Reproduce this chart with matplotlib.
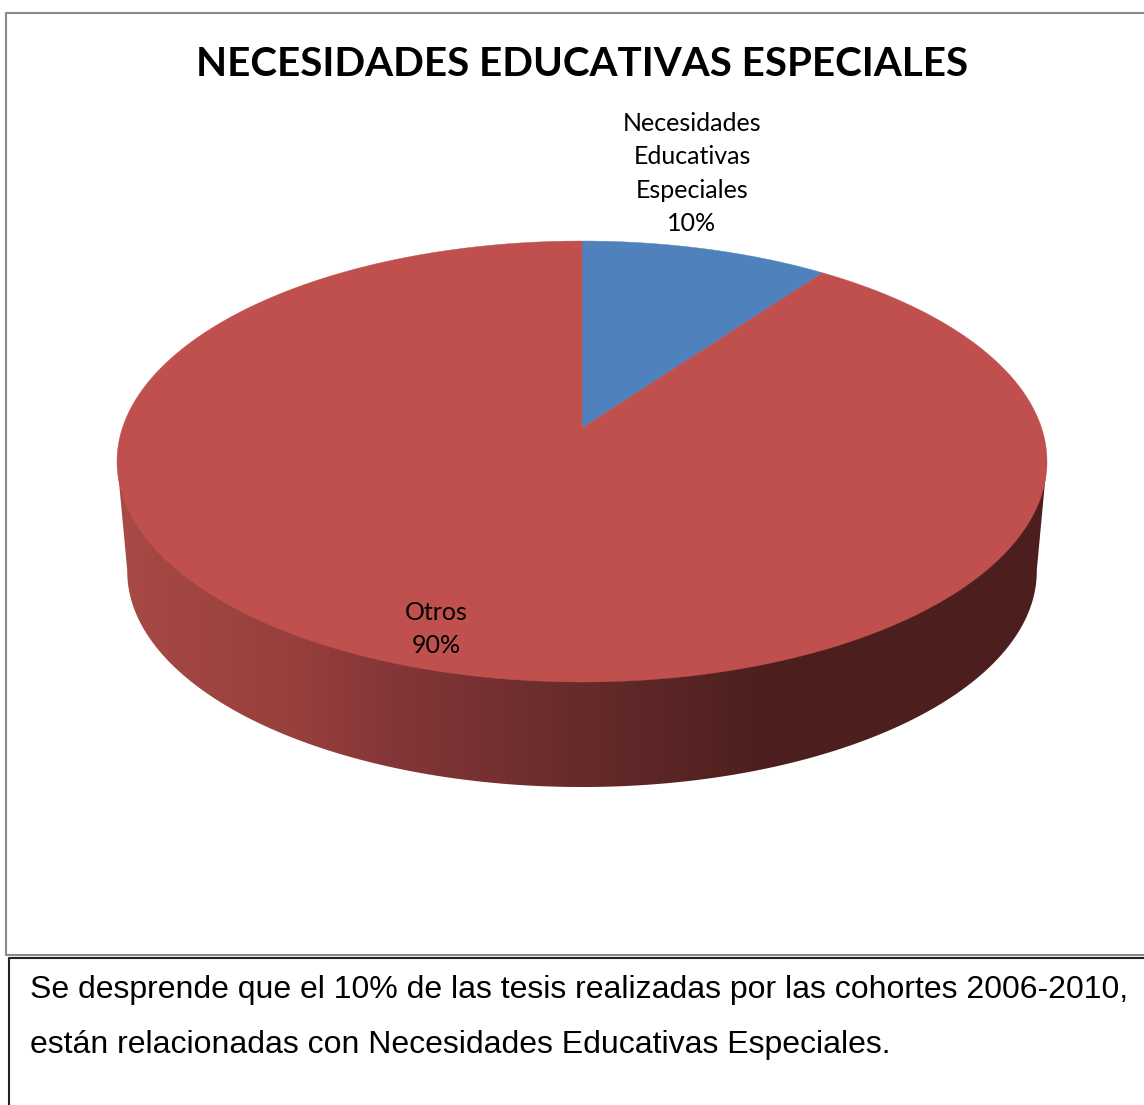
import numpy as np
import matplotlib
matplotlib.use('Agg')
import matplotlib.pyplot as plt
from matplotlib.patches import Polygon
from matplotlib.colors import LinearSegmentedColormap

titulo = 'NECESIDADES EDUCATIVAS ESPECIALES'
categorias = ['Necesidades\nEducativas\nEspeciales', 'Otros']
valores = [10, 90]
colores = ['#4f81bd', '#c0504d']
texto = ['Se desprende que el 10% de las tesis realizadas por las cohortes 2006-2010,',
         'están relacionadas con Necesidades Educativas Especiales.']

W, H = 1144, 1105
fig = plt.figure(figsize=(W / 100, H / 100), dpi=100)
ax = fig.add_axes([0, 0, 1, 1])
ax.set_xlim(0, W)
ax.set_ylim(H, 0)
ax.axis('off')

# perspectiva del pastel: circulo unidad -> pixeles
cx, cy = 582, 428
c = 0.152


def proyectar(ang, esc=1.0, dy=0.0):
    x = np.sin(ang)
    y = np.cos(ang)
    den = 1 + c * y
    return np.column_stack([cx + esc * 459.6 * x / den,
                            cy + dy - esc * 215.4 * y / den])


# lateral con degradado
t = np.linspace(0, 2 * np.pi, 721)
abajo = proyectar(t, 0.978, 110.6)
izq = abajo[:, 0].argmin()
der = abajo[:, 0].argmax()
arriba = proyectar(t)
contorno = np.vstack([arriba[arriba[:, 0].argmax()], abajo[der:izq + 1],
                      arriba[arriba[:, 0].argmin()]])
cmap = LinearSegmentedColormap.from_list('lateral', [
    (0.0, '#a84a46'), (0.197, '#963f3c'), (0.294, '#853638'),
    (0.50, '#672b2b'), (0.70, '#4c1f1e'), (1.0, '#4c1f1e')])
grad = np.linspace(0, 1, 512).reshape(1, -1)
img = ax.imshow(grad, cmap=cmap, extent=[117, 1047, 800, 440], aspect='auto', zorder=1)
img.set_clip_path(Polygon(contorno, transform=ax.transData))
ax.set_xlim(0, W)
ax.set_ylim(H, 0)

# cara superior, un sector por valor
fracc = np.cumsum([0] + valores) / sum(valores)
for i in range(len(valores)):
    ang = np.linspace(fracc[i], fracc[i + 1], 400) * 2 * np.pi
    puntos = np.vstack([[cx, cy], proyectar(ang)])
    ax.add_patch(Polygon(puntos, closed=True, facecolor=colores[i], edgecolor=colores[i],
                         linewidth=0.3, zorder=2))

# textos del grafico
ax.text(582, 65, titulo, family='Lato', fontweight='bold', fontsize=29.05,
        ha='center', va='center', color='black', zorder=3)
ax.text(692, 173.5, categorias[0] + '\n%d%%' % valores[0], family='Lato', fontsize=18,
        ha='center', va='center', linespacing=1.54, color='black', zorder=3)
ax.text(436, 629, categorias[1] + '\n%d%%' % valores[1], family='Lato', fontsize=18,
        ha='center', va='center', linespacing=1.54, color='black', zorder=3)

# marco del grafico y tabla de abajo
ax.plot([W, 5.5, 5.5, W], [12.5, 12.5, 955, 955], color='#8a8a8a', lw=1.5, zorder=4)
ax.plot([W, 8.5, 8.5], [957.5, 957.5, H], color='#222222', lw=1.5, zorder=4)

ax.text(30, 990, texto[0], family='Liberation Sans', fontsize=23, va='center', color='black')
ax.text(30, 1044.5, texto[1], family='Liberation Sans', fontsize=23, va='center', color='black')

fig.savefig('out.png', dpi=100, facecolor='white')
